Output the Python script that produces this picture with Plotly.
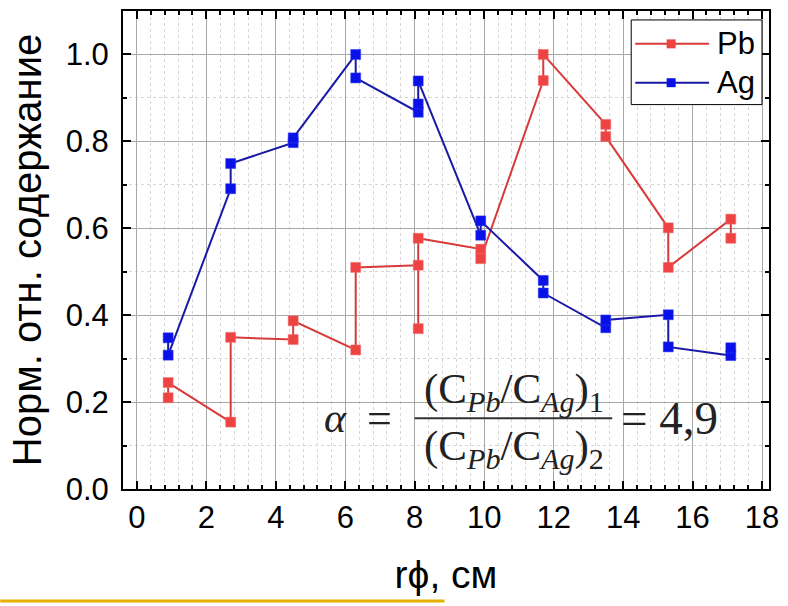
import plotly.graph_objects as go

# Radial position of the sampling points, cm (two or three readings per point)
r_pb = [0.9, 0.9, 2.7, 2.7, 4.5, 4.5, 6.3, 6.3, 8.1, 8.1, 8.1,
        9.9, 9.9, 11.7, 11.7, 13.5, 13.5, 15.3, 15.3, 17.1, 17.1]
pb = [0.21, 0.245, 0.154, 0.349, 0.344, 0.387, 0.32, 0.51, 0.515, 0.369, 0.577,
      0.552, 0.53, 0.94, 1.0, 0.839, 0.811, 0.601, 0.51, 0.621, 0.577]

r_ag = [0.9, 0.9, 2.7, 2.7, 4.5, 4.5, 6.3, 6.3, 8.1, 8.1, 8.1,
        9.9, 9.9, 11.7, 11.7, 13.5, 13.5, 15.3, 15.3, 17.1, 17.1]
ag = [0.348, 0.308, 0.691, 0.749, 0.797, 0.808, 1.0, 0.946, 0.867, 0.886, 0.939,
      0.584, 0.617, 0.48, 0.451, 0.371, 0.389, 0.401, 0.327, 0.307, 0.325]

series_names = ["Pb", "Ag"]
x_ticks = [0, 2, 4, 6, 8, 10, 12, 14, 16, 18]
y_ticks = [0.0, 0.2, 0.4, 0.6, 0.8, 1.0]

RED_LINE, RED_MARK = "#D83A3A", "#EE4343"
BLUE_LINE, BLUE_MARK = "#1A1AA6", "#0A10E8"

W, H = 788, 606
L, R, T, B = 123, 770, 9, 489


def px(x):
    return (x - L) / (R - L)


def py(y):
    return (B - y) / (B - T)


fig = go.Figure()
fig.add_trace(go.Scatter(
    x=r_pb, y=pb, name=series_names[0], mode="lines+markers",
    line=dict(color=RED_LINE, width=2),
    marker=dict(symbol="square", size=10, color=RED_MARK,
                line=dict(color="#F27070", width=0.5)),
    showlegend=False))
fig.add_trace(go.Scatter(
    x=r_ag, y=ag, name=series_names[1], mode="lines+markers",
    line=dict(color=BLUE_LINE, width=2),
    marker=dict(symbol="square", size=10, color=BLUE_MARK,
                line=dict(color="#3040F0", width=0.5)),
    showlegend=False))

sans = "Liberation Sans, Arial, sans-serif"
tick_font = dict(family=sans, size=31, color="black")
axis_common = dict(
    showline=True, linecolor="black", linewidth=2, mirror="allticks",
    ticks="inside", ticklen=8, tickwidth=2, tickcolor="black",
    showgrid=True, gridcolor="#A8A8A8", gridwidth=1,
    zeroline=False, tickfont=tick_font,
)

fig.update_xaxes(
    range=[-0.4, 18.2], tickvals=x_ticks, ticktext=[str(v) for v in x_ticks],
    minor=dict(dtick=0.4, tick0=0, ticks="inside", ticklen=4, tickwidth=1.5,
               tickcolor="black", showgrid=True, gridcolor="#D6D6D6",
               griddash="dot", gridwidth=1),
    title=dict(text="rϕ, см", font=dict(family=sans, size=39, color="black"),
               standoff=26),
    **axis_common)
fig.update_yaxes(
    range=[0, 1.1], tickvals=y_ticks, ticktext=[f"{v:.1f}" for v in y_ticks],
    ticklabelstandoff=6,
    minor=dict(dtick=0.1, tick0=0, ticks="inside", ticklen=4, tickwidth=1.5,
               tickcolor="black", showgrid=True, gridcolor="#D6D6D6",
               griddash="dot", gridwidth=1),
    title=dict(text="Норм. отн. содержание",
               font=dict(family=sans, size=40, color="black"),
               standoff=12),
    **axis_common)

shapes = []
annotations = []

# Legend box drawn by hand so the sample lines are long
shapes.append(dict(type="rect", xref="paper", yref="paper",
                   x0=px(632), x1=px(763), y0=py(103), y1=py(18),
                   line=dict(color="black", width=1), fillcolor="white", layer="above"))
for name, lc, mc, yy in [(series_names[0], RED_LINE, RED_MARK, 42),
                         (series_names[1], BLUE_LINE, BLUE_MARK, 81)]:
    shapes.append(dict(type="line", xref="paper", yref="paper",
                       x0=px(636), x1=px(710), y0=py(yy), y1=py(yy),
                       line=dict(color=lc, width=2), layer="above"))
    shapes.append(dict(type="rect", xref="paper", yref="paper",
                       x0=px(672 - 4.5), x1=px(672 + 4.5),
                       y0=py(yy + 4.5), y1=py(yy - 4.5),
                       line=dict(width=0), fillcolor=mc, layer="above"))
    annotations.append(dict(xref="paper", yref="paper", x=px(716), y=py(yy),
                            xanchor="left", yanchor="middle", showarrow=False,
                            text=name, font=dict(family=sans, size=31, color="black")))

# Ratio formula
serif = "Liberation Serif, Times New Roman, serif"
frac_text = "(C<sub><i>Pb</i></sub>/C<sub><i>Ag</i></sub>)<sub>{}</sub>"
annotations.append(dict(xref="paper", yref="paper", x=px(336), y=py(418),
                        xanchor="center", yanchor="middle", showarrow=False,
                        text="<i>α</i>", font=dict(family=serif, size=42, color="#222")))
annotations.append(dict(xref="paper", yref="paper", x=px(380), y=py(418),
                        xanchor="center", yanchor="middle", showarrow=False,
                        text="=", font=dict(family=serif, size=44, color="#222")))
annotations.append(dict(xref="paper", yref="paper", x=px(515), y=py(392),
                        xanchor="center", yanchor="middle", showarrow=False,
                        text=frac_text.format(1), font=dict(family=serif, size=43, color="#222")))
annotations.append(dict(xref="paper", yref="paper", x=px(515), y=py(449),
                        xanchor="center", yanchor="middle", showarrow=False,
                        text=frac_text.format(2), font=dict(family=serif, size=43, color="#222")))
shapes.append(dict(type="line", xref="paper", yref="paper",
                   x0=px(415), x1=px(613), y0=py(418), y1=py(418),
                   line=dict(color="#333", width=2)))
annotations.append(dict(xref="paper", yref="paper", x=px(620), y=py(418),
                        xanchor="left", yanchor="middle", showarrow=False,
                        text="= 4,9", font=dict(family=serif, size=47, color="#222")))

# Accent rule under the axis label
shapes.append(dict(type="line", xref="paper", yref="paper",
                   x0=px(0), x1=px(445), y0=py(601.5), y1=py(601.5),
                   line=dict(color="#E6B000", width=3)))

fig.update_layout(
    width=W, height=H,
    margin=dict(l=L, r=W - R, t=T, b=H - B, pad=0),
    paper_bgcolor="white", plot_bgcolor="white",
    shapes=shapes, annotations=annotations, showlegend=False,
)

fig.write_html("out.html")
